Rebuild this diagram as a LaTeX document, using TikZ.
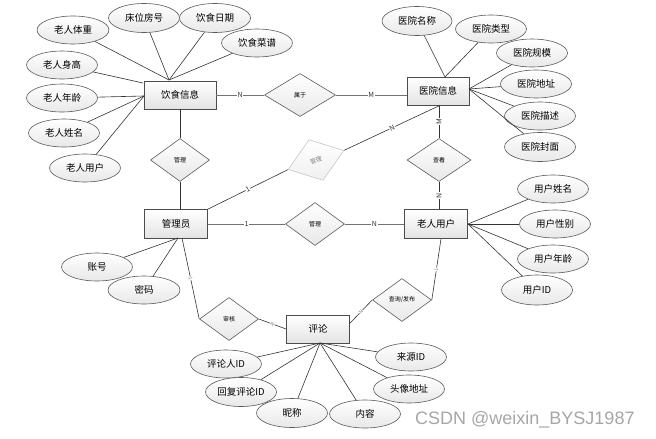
\documentclass[tikz,border=0pt]{standalone}
\usepackage{fontspec}
\setmainfont{Noto Sans CJK SC}
\newfontfamily\wmfont{Liberation Sans}
\usetikzlibrary{shapes.geometric,calc}
\tikzset{
  ent/.style={rectangle, draw=black!70, line width=0.7pt, top color=white, bottom color=gray!22, minimum width=63pt, minimum height=28pt, inner sep=0pt, font=\fontsize{9.5}{10}\selectfont},
  attr/.style={ellipse, draw=black!65, line width=0.6pt, top color=white, bottom color=gray!18, minimum width=71pt, minimum height=28pt, inner sep=0pt, font=\fontsize{9.5}{10}\selectfont},
  rel/.style={diamond, draw=black!65, line width=0.6pt, top color=white, bottom color=gray!18, minimum width=59pt, minimum height=43pt, inner sep=0pt, font=\fontsize{6}{7}\selectfont},
  aline/.style={draw=black!80, line width=0.6pt},
  cline/.style={draw=black!55, line width=0.9pt},
  lab/.style={fill=white, inner sep=0.5pt, font=\fontsize{7}{8}\selectfont, text=black!80},
  tlab/.style={fill=white, inner sep=0.3pt, font=\fontsize{5}{6}\selectfont, text=black!50, sloped}
}
\begin{document}
\begin{tikzpicture}[x=1pt,y=-1pt]
\useasboundingbox (0,0) rectangle (656,439);
% entities
\node[ent, minimum width=72pt] (ys) at (180,95) {饮食信息};
\node[ent, minimum width=62pt] (yy) at (438,91) {医院信息};
\node[ent, minimum height=29pt] (gly) at (176,224) {管理员};
\node[ent, minimum height=29pt] (lr) at (436,224) {老人用户};
\node[ent] (pl) at (318,329) {评论};
% relations
\node[rel, minimum width=71pt] (r1) at (300,95) {属于};
\node[rel] (r2) at (180,160) {管理};
\node[rel, rotate=19, draw=gray!45, text=gray, top color=white, bottom color=gray!12] (r3) at (316,160) {管理};
\node[rel] (r4) at (315,224) {管理};
\node[rel, minimum width=64pt] (r5) at (439,160) {查看};
\node[rel] (r6) at (229,319) {审核};
\node[rel] (r7) at (402,300) {查询/发布};
% attributes of 饮食信息
\node[attr, minimum width=72pt] (a1) at (73,30) {老人体重};
\node[attr, minimum height=29pt] (a2) at (144,18) {床位房号};
\node[attr, minimum height=29pt] (a3) at (215,18) {饮食日期};
\node[attr] (a4) at (257,43) {饮食菜谱};
\node[attr] (a5) at (62,65) {老人身高};
\node[attr] (a6) at (62,98) {老人年龄};
\node[attr] (a7) at (64,133) {老人姓名};
\node[attr] (a8) at (85,168) {老人用户};
\coordinate (ysT) at (169,80);
\coordinate (ysL1) at (143,83);
\coordinate (ysL2) at (144,96);
\foreach \a in {a1,a2,a3,a4} \draw[aline] (\a) -- (ysT);
\draw[aline] (a5) -- (ysL1);
\foreach \a in {a6,a7,a8} \draw[aline] (\a) -- (ysL2);
% attributes of 医院信息
\node[attr, minimum width=70pt, minimum height=29pt] (b1) at (417,21) {医院名称};
\node[attr] (b2) at (491,29) {医院类型};
\node[attr] (b3) at (532,53) {医院规模};
\node[attr] (b4) at (536,84) {医院地址};
\node[attr] (b5) at (540,116) {医院描述};
\node[attr, minimum height=29pt] (b6) at (540,147) {医院封面};
\coordinate (yyT) at (445,77);
\coordinate (yyR) at (469,89);
\draw[aline] (b1) -- (yyT);
\draw[aline] (b2) -- (yyT);
\foreach \a in {b3,b4,b5,b6} \draw[aline] (\a) -- (yyR);
% attributes of 老人用户
\node[attr] (c1) at (553,189) {用户姓名};
\node[attr] (c2) at (555,224) {用户性别};
\node[attr] (c3) at (553,259) {用户年龄};
\node[attr, minimum height=30pt] (c4) at (537,290) {用户ID};
\coordinate (lrR) at (468,224);
\foreach \a in {c1,c2,c3,c4} \draw[aline] (\a) -- (lrR);
% attributes of 管理员
\node[attr] (d1) at (97,267) {账号};
\node[attr, minimum width=72pt] (d2) at (144,290) {密码};
\coordinate (glyB) at (178,238);
\draw[aline] (d1) -- (glyB);
\draw[aline] (d2) -- (glyB);
% attributes of 评论
\node[attr] (e1) at (226,364) {评论人ID};
\node[attr, minimum height=29pt] (e2) at (241,392) {回复评论ID};
\node[attr, minimum height=29pt] (e3) at (292,413) {昵称};
\node[attr] (e4) at (365,414) {内容};
\node[attr] (e5) at (409,389) {头像地址};
\node[attr] (e6) at (411,357) {来源ID};
\coordinate (plB) at (320,343);
\foreach \a in {e1,e2,e3,e4,e5,e6} \draw[aline] (\a) -- (plB);
% connectors
\draw[cline] (ys.east) -- node[lab] {N} (r1.west);
\draw[cline] (r1.east) -- node[lab] {M} (r1.east -| yy.west);
\draw[aline] (ys.south -| r2.north) -- (r2.north);
\draw[aline] (r2.south) -- (r2.south |- gly.north);
\draw[aline] (gly.north east) -- node[lab, sloped, pos=0.5] {1} (r3.west);
\draw[aline] (r3.east) -- node[lab, sloped, pos=0.5] {N} ($(yy.south)+(2,0)$);
\draw[cline] (gly.east) -- node[lab] {1} (r4.west);
\draw[cline] (r4.east) -- node[lab] {N} (lr.west);
\draw[aline] (r5.north |- yy.south) -- node[lab, rotate=90] {M} (r5.north);
\draw[aline] (r5.south) -- node[lab, rotate=90] {N} (r5.south |- lr.north);
\coordinate (glyB2) at (182,238);
\draw[aline] (glyB2) -- node[tlab] {1} (r6.west);
\draw[aline] (r6.east) -- node[tlab] {N} (pl.west);
\draw[aline] ($(pl.north east)!0.3!(pl.south east)$) -- node[tlab] {N} (r7.west);
\draw[aline] (r7.east) -- node[tlab] {1} ($(lr.south)+(5,0)$);
% watermark
\node[font=\wmfont\fontsize{18}{20}\selectfont, text=gray!70, anchor=west, inner sep=0pt] (wm) at (415,420) {CSDN @weixin\_BYSJ1987};
\end{tikzpicture}
\end{document}
